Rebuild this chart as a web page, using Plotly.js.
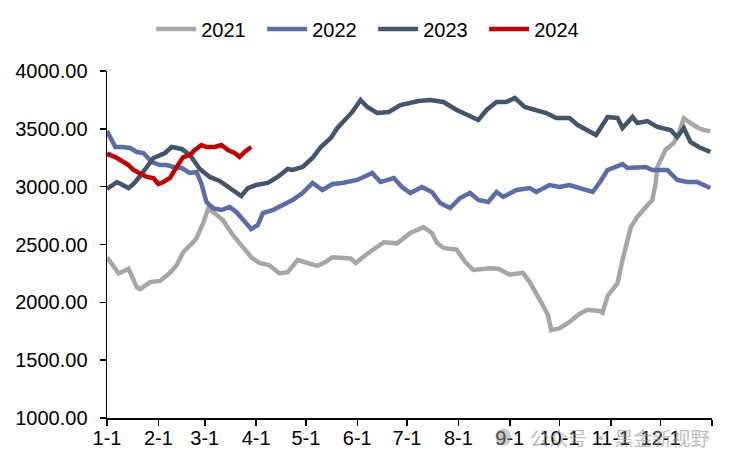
<!DOCTYPE html>
<html>
<head>
<meta charset="utf-8">
<script src="https://cdn.plot.ly/plotly-3.0.1.min.js"></script>
<style>html,body{margin:0;padding:0;background:#fff;}#chart{width:736px;height:467px;}</style>
</head>
<body>
<div id="chart"></div>
<script>
// ---- data (month-day, value) ----
const d2021 = ['01-01','01-08','01-14','01-19','01-21','01-27','02-02','02-08','02-12','02-16','02-22','02-24','02-28','03-03','03-07','03-12','03-18','03-24','03-29','04-03','04-09','04-15','04-20','04-26','05-02','05-08','05-13','05-17','05-28','05-31','06-07','06-17','06-25','07-03','07-11','07-16','07-19','07-23','07-31','08-05','08-10','08-20','08-25','09-01','09-09','09-13','09-20','09-24','09-26','10-01','10-07','10-13','10-18','10-25','10-27','10-30','11-05','11-08','11-13','11-17','11-23','11-26','11-28','11-29','12-04','12-09','12-12','12-15','12-19','12-24','12-27','12-31'];
const v2021 = [2390,2250,2290,2130,2115,2175,2185,2255,2320,2435,2520,2555,2685,2808,2770,2710,2580,2470,2390,2340,2320,2250,2260,2365,2340,2315,2350,2390,2380,2340,2420,2520,2510,2600,2650,2600,2515,2470,2455,2350,2280,2295,2290,2240,2255,2175,2000,1890,1760,1775,1830,1900,1935,1925,1910,2055,2165,2365,2650,2740,2840,2885,3030,3170,3320,3380,3465,3590,3550,3505,3490,3480];

const d2022 = ['01-01','01-06','01-10','01-15','01-19','01-23','01-28','02-02','02-06','02-10','02-15','02-20','02-24','02-27','03-02','03-06','03-11','03-16','03-20','03-24','03-29','04-02','04-05','04-11','04-17','04-23','04-29','05-05','05-11','05-17','05-23','06-01','06-10','06-15','06-23','06-28','07-03','07-10','07-16','07-21','07-27','08-02','08-08','08-13','08-19','08-24','08-28','09-05','09-13','09-17','09-25','10-01','10-07','10-13','10-21','10-25','10-30','11-02','11-08','11-11','11-17','11-22','11-26','12-05','12-11','12-17','12-23','12-27','12-31'];
const v2022 = [3480,3343,3343,3334,3300,3291,3213,3187,3187,3170,3161,3118,3127,3023,2867,2815,2798,2824,2781,2712,2634,2669,2772,2798,2841,2885,2945,3032,2971,3023,3032,3058,3118,3040,3075,2997,2945,2997,2954,2859,2815,2902,2945,2885,2867,2954,2911,2971,2988,2954,3014,2997,3014,2988,2954,3032,3144,3161,3196,3161,3170,3170,3144,3144,3058,3040,3040,3014,2988];

const d2023 = ['01-01','01-07','01-14','01-17','01-21','01-25','01-29','02-05','02-09','02-15','02-20','02-26','03-04','03-10','03-16','03-21','03-23','03-27','04-01','04-08','04-14','04-20','04-23','04-29','05-05','05-10','05-16','05-20','05-26','05-29','06-03','06-07','06-13','06-20','06-27','07-03','07-08','07-15','07-23','07-31','08-06','08-13','08-18','08-24','08-30','09-04','09-10','09-17','09-23','09-29','10-07','10-12','10-18','10-23','10-25','10-30','11-05','11-08','11-14','11-17','11-23','11-29','12-07','12-11','12-15','12-19','12-24','12-28','12-31'];
const v2023 = [2980,3040,2988,3023,3092,3170,3248,3291,3343,3326,3274,3153,3084,3049,2988,2928,2919,2988,3014,3032,3084,3153,3144,3170,3248,3343,3421,3507,3594,3646,3749,3689,3637,3646,3706,3723,3741,3749,3732,3663,3620,3576,3663,3732,3732,3767,3689,3663,3637,3594,3594,3533,3490,3447,3490,3602,3594,3507,3602,3550,3567,3516,3490,3429,3507,3386,3343,3317,3300];

const d2024 = ['01-01','01-06','01-10','01-14','01-17','01-21','01-25','01-29','02-01','02-04','02-08','02-12','02-16','02-20','02-23','02-27','03-02','03-07','03-11','03-15','03-19','03-22','03-25','03-29'];
const v2024 = [3285,3256,3222,3187,3144,3118,3084,3075,3023,3040,3075,3170,3256,3274,3317,3360,3343,3343,3360,3317,3291,3256,3300,3343];

const seriesNames = ['2021','2022','2023','2024'];
const seriesColors = ['#A6A6A6','#5B6CA6','#44546A','#C00000'];
const tickVals = ['01-01','02-01','03-01','04-01','05-01','06-01','07-01','08-01','09-01','10-01','11-01','12-01'];
const tickText = ['1-1','2-1','3-1','4-1','5-1','6-1','7-1','8-1','9-1','10-1','11-1','12-1'];
const yTicks = [1000,1500,2000,2500,3000,3500,4000];
const watermark = '公众号 · 黑金新视野';

const toDate = md => '2021-' + md;
const allD = [d2021,d2022,d2023,d2024];
const allV = [v2021,v2022,v2023,v2024];

const traces = allD.map((d,i)=>({
  x: d.map(toDate), y: allV[i], type:'scatter', mode:'lines', name: seriesNames[i],
  line:{color: seriesColors[i], width:4.5}
}));

const FONT = 'Liberation Sans, Arial, sans-serif';
const layout = {
  width:736, height:467,
  margin:{l:107, r:24, t:71, b:49},
  paper_bgcolor:'#fff', plot_bgcolor:'#fff',
  font:{family:FONT, size:20, color:'#000'},
  showlegend:true,
  legend:{orientation:'h', xref:'container', yref:'container', x:0.507, xanchor:'center', y:0.938, yanchor:'middle',
          font:{family:FONT, size:20, color:'#000'}, entrywidth:56, entrywidthmode:'pixels', itemwidth:40, traceorder:'normal'},
  xaxis:{type:'date', range:['2021-01-01','2022-01-01'],
         tickvals: tickVals.map(toDate).concat(['2022-01-01']), ticktext: tickText.concat(['']),
         showline:true, linecolor:'#000', linewidth:1.5, ticks:'outside', ticklen:6, tickwidth:1.5, tickcolor:'#000',
         showgrid:false, zeroline:false, ticklabelstandoff:-5, fixedrange:true},
  yaxis:{range:[1000,4000], tickvals:yTicks, tickformat:'.2f',
         showline:true, linecolor:'#000', linewidth:1.5, ticks:'outside', ticklen:6, tickwidth:1.5, tickcolor:'#000',
         showgrid:false, zeroline:false, ticklabelstandoff:8, fixedrange:true},
  annotations:[{text: watermark, xref:'paper', yref:'paper', x:1, xanchor:'right', y:-0.055, yanchor:'middle',
                showarrow:false, font:{family:'Noto Sans CJK SC, sans-serif', size:19, color:'rgba(150,150,150,0.65)'}}],
  shapes:[{type:'circle', xref:'paper', yref:'paper', x0:0.642, x1:0.668, y0:-0.03, y1:-0.08,
           fillcolor:'rgba(150,150,150,0.5)', line:{width:0}}]
};
Plotly.newPlot('chart', traces, layout, {displayModeBar:false, staticPlot:true});
</script>
</body>
</html>
